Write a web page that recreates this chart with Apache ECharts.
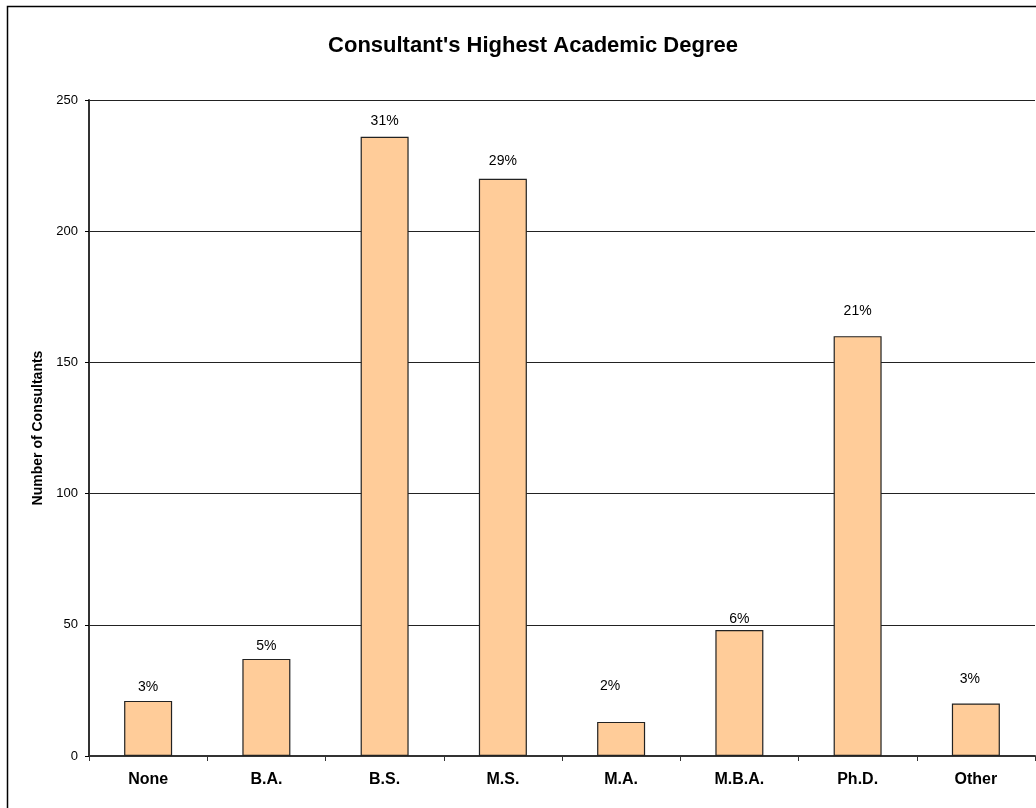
<!DOCTYPE html>
<html>
<head>
<meta charset="utf-8">
<script src="https://cdn.jsdelivr.net/npm/echarts@6/dist/echarts.min.js"></script>
<style>html,body{margin:0;padding:0;background:#fff}#c{width:1036px;height:808px}</style>
</head>
<body>
<div id="c"></div>
<script>
// ---- data ----
const categories = ['None', 'B.A.', 'B.S.', 'M.S.', 'M.A.', 'M.B.A.', 'Ph.D.', 'Other'];
const consultants = [21, 37, 236, 220, 13, 48, 160, 20];
const percentLabels = ['3%', '5%', '31%', '29%', '2%', '6%', '21%', '3%'];
const yTicks = [0, 50, 100, 150, 200, 250];

// ---- label nudges (style only, px) ----
const labelNudge = [[0, -7], [0, -6], [0, -9], [0, -11], [-11, -29], [0, -4], [0, -18], [-6, -17]];

const FONT = '"Liberation Sans", Arial, sans-serif';
const chart = echarts.init(document.getElementById('c'), null, {renderer: 'canvas'});

chart.setOption({
  animation: false,
  backgroundColor: '#fff',
  title: {
    text: "Consultant's Highest Academic Degree",
    left: 528, top: 30, textAlign: 'center',
    textStyle: {fontFamily: FONT, fontSize: 22, fontWeight: 'bold', color: '#000'}
  },
  graphic: [{
    type: 'rect', silent: true, z: -1,
    shape: {x: 7.5, y: 6.5, width: 1200, height: 1000},
    style: {fill: 'none', stroke: '#000', lineWidth: 1.5}
  }],
  grid: {left: 89, top: 100, right: 1, bottom: 52, containLabel: false},
  xAxis: {
    type: 'category',
    data: categories,
    axisLine: {lineStyle: {color: '#333', width: 2}},
    axisTick: {show: true, alignWithLabel: false, length: 5, lineStyle: {color: '#333', width: 1}},
    axisLabel: {fontFamily: FONT, fontSize: 16, fontWeight: 'bold', color: '#000', margin: 16},
    splitLine: {show: false}
  },
  yAxis: {
    type: 'value',
    min: yTicks[0], max: yTicks[yTicks.length - 1], interval: yTicks[1] - yTicks[0],
    name: 'Number of Consultants',
    nameLocation: 'middle', nameGap: 39,
    nameTextStyle: {fontFamily: FONT, fontSize: 14, fontWeight: 'bold', color: '#000'},
    axisLine: {show: true, lineStyle: {color: '#333', width: 2}},
    axisTick: {show: true, length: 4, lineStyle: {color: '#000', width: 1}},
    axisLabel: {fontFamily: FONT, fontSize: 13, color: '#000', margin: 11},
    splitLine: {show: true, lineStyle: {color: '#222', width: 1}}
  },
  series: [{
    type: 'bar',
    barWidth: 48,
    data: consultants.map((v, i) => ({
      value: v,
      label: {offset: labelNudge[i]}
    })),
    itemStyle: {color: '#FFCC99', borderColor: '#222', borderWidth: 1.2},
    label: {
      show: true, position: 'top', distance: 0,
      fontFamily: FONT, fontSize: 14, color: '#000',
      formatter: p => percentLabels[p.dataIndex]
    }
  }]
});
</script>
</body>
</html>
